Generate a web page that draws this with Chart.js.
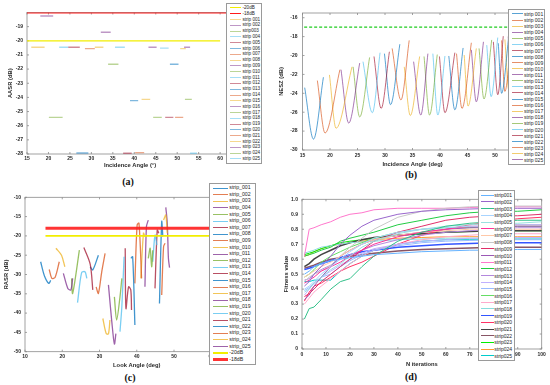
<!DOCTYPE html>
<html>
<head>
<meta charset="UTF-8">
<title>Strip results</title>
<script src="https://cdn.jsdelivr.net/npm/chart.js@4.4.0/dist/chart.umd.min.js"></script>
<style>
  body { margin:0; width:550px; height:385px; background:#fff; position:relative; overflow:hidden; font-family:"Liberation Sans", Arial, sans-serif; }
  canvas { position:absolute; }
  .legend { position:absolute; background:#fff; border:1px solid #9a9a9a; box-sizing:border-box; display:flex; flex-direction:column; padding:1px 0; z-index:2; }
  .legend .row { flex:1; position:relative; }
  .legend .row i { position:absolute; top:50%; height:0; display:block; }
  .legend .row span { position:absolute; top:50%; transform:translateY(-50%); white-space:nowrap; color:#1e1e1e; line-height:1; }
  .cap { position:absolute; font:bold 10px "Liberation Serif", serif; color:#111; transform:translate(-50%,-50%); }
</style>
</head>
<body>
<div class="cap" style="left:128px;top:181px">(a)</div>
<div class="cap" style="left:411px;top:174px">(b)</div>
<div class="cap" style="left:130px;top:377px">(c)</div>
<div class="cap" style="left:411px;top:376px">(d)</div>
<script>
var matlab = ['#0072BD','#D95319','#EDB120','#7E2F8E','#77AC30','#4DBEEE','#A2142F']
var stripNo = ['001','002','003','004','005','006','007','008','009','010','011','012','013',
               '014','015','016','017','018','019','020','021','022','023','024','025']

// (a) AASR, one flat segment per strip
var aasrFrom = [16.0,18.1,20.1,22.5,24.6,26.5,28.5,30.8,32.2,33.9,35.5,37.4,39.0,40.2,41.7,43.3,44.4,46.0,47.2,48.3,49.5,50.7,51.6,51.8,53.0]
var aasrTo   = [19.1,21.1,23.3,24.6,27.3,29.3,30.8,32.8,34.5,36.3,37.8,39.4,40.9,42.3,43.7,45.2,46.4,48.0,49.1,50.3,51.4,52.0,53.0,53.4,54.6]
var aasrDb   = [-20.46,-18.25,-25.41,-20.46,-20.46,-27.93,-20.55,-20.46,-19.4,-21.66,-20.46,-27.95,-24.23,-27.9,-24.14,-20.46,-25.41,-20.52,-25.41,-21.66,-25.41,-20.55,-20.46,-24.14,-27.95]
var aTicksX = [15,20,25,30,35,40,45,50,55,60]
var aTicksY = [-28,-27,-26,-25,-24,-23,-22,-21,-20,-19]

// (b) NESZ: start, minimum, end of each strip
var neszAngle = [
  [15.4,17.0,18.8],[17.7,19.1,21.8],[19.9,21.1,24.0],[22.0,23.4,25.4],[24.2,25.4,27.2],
  [26.0,27.7,29.1],[28.0,29.3,30.8],[29.9,31.0,32.7],[31.3,32.9,34.4],[33.5,34.6,36.3],
  [35.2,36.5,37.8],[37.1,38.1,39.5],[38.7,39.6,40.9],[39.9,40.9,42.7],[41.6,42.7,44.2],
  [43.0,44.0,45.7],[44.4,45.1,46.6],[45.7,46.6,47.9],[47.1,48.0,49.4],[48.5,49.3,50.5],
  [49.7,50.5,51.5],[50.6,51.2,52.5],[51.2,51.8,53.0],[51.8,52.5,53.6],[52.4,53.2,54.2]]
var neszDb = [
  [-23.4,-28.85,-22.3],[-22.65,-28.2,-21.5],[-22.05,-27.7,-21.2],[-21.5,-27.15,-20.8],[-21.2,-26.5,-20.2],
  [-20.65,-26.05,-19.7],[-20.1,-25.6,-19.6],[-19.8,-25.2,-18.8],[-19.25,-24.7,-18.4],[-21.2,-26.35,-20.1],
  [-20.65,-26.3,-19.8],[-20.1,-26.3,-19.9],[-19.8,-26.3,-20.05],[-20.1,-26.05,-19.7],[-20.05,-25.75,-19.2],
  [-19.8,-25.6,-18.65],[-19.95,-25.35,-19.25],[-19.4,-24.9,-18.55],[-19.25,-24.6,-18.35],[-18.9,-24.35,-18.1],
  [-18.55,-24.15,-17.95],[-18.7,-24.0,-18.0],[-18.4,-23.8,-17.9],[-18.3,-23.6,-17.8],[-18.0,-23.4,-17.7]]
var bTicksX = [15,20,25,30,35,40,45,50,55]
var bTicksY = [-30,-28,-26,-24,-22,-20,-18,-16]

// (c) RASR vs look angle
var rasrAngle = [
  [14.2,15.2,16.4,16.9],[16.5,17.2,18.1,19.2],[18.3,19.8,20.7],[20.3,21.5,22.3,22.8],[22.5,22.8,24.6],
  [24.1,25.2,26.1,26.6],[25.8,27.5,28.2],[27.5,28.2,29.7],[29.1,29.7,30.6,31.5],[30.9,31.8,32.4,32.8],
  [32.4,33.3,34.0,34.4],[34.0,34.6,35.5,36.0],[35.5,36.0,36.6],[36.9,37.1,37.8,38.4,38.6],[38.4,38.9,39.5],
  [39.5,40.1,40.6,41.3],[41.1,41.8,42.2],[42.2,42.6,43.1],[43.1,43.6,44.0,44.3],[44.3,44.9,45.4],
  [44.9,45.5,45.9],[46.1,46.7,47.0],[46.7,47.2,47.6],[47.2,47.8,48.2],[47.8,48.2,48.5,48.8]]
var rasrDb = [
  [-26.7,-30.3,-32.3,-31.5],[-28.7,-31,-30.7,-26.7],[-23.2,-25,-28],[-29.7,-33.6,-34,-31],[-31,-34.9,-23.7],
  [-37.3,-29.5,-29.3,-31],[-23,-27.3,-34],[-28,-28.8,-25],[-33.2,-34.9,-29.3,-24.5],[-41.4,-45.3,-45.4,-41.8],
  [-32.7,-42.2,-48.0,-45.3],[-35.8,-41.8,-35.8,-31],[-44.8,-38.3,-25.4],[-23.2,-38.8,-33.2,-34.0,-39.2],[-25.8,-25.4,-43.1],
  [-32.3,-17.2,-16.7,-31.0],[-31,-19.3,-20.2],[-33.2,-17.6,-15.9],[-25.8,-23.2,-28.0,-23.7],[-26.7,-19.8,-22.4],
  [-33.6,-18.5,-19.3],[-37.5,-16.3,-20.2],[-35.3,-22.8,-21.9],[-15.9,-14.6,-19.3],[-12.6,-16.7,-25.8,-28.2]]
var cTicksX = [10,20,30,40,50,60,70]
var cTicksY = [-50,-45,-40,-35,-30,-25,-20,-15,-10]

// (d) fitness convergence
var iterN = [1,3,5,8,12,16,20,25,30,40,50,60,70,80,90,100]
var fitness = [
  [0.50,0.52,0.55,0.57,0.59,0.60,0.61,0.62,0.63,0.64,0.65,0.655,0.66,0.66,0.665,0.665],
  [0.42,0.45,0.50,0.55,0.62,0.70,0.76,0.82,0.86,0.90,0.92,0.93,0.935,0.94,0.94,0.94],
  [0.20,0.27,0.28,0.33,0.40,0.45,0.47,0.55,0.62,0.72,0.78,0.82,0.84,0.85,0.86,0.86],
  [0.40,0.42,0.45,0.50,0.55,0.60,0.65,0.70,0.74,0.78,0.80,0.81,0.82,0.82,0.83,0.83],
  [0.38,0.40,0.44,0.48,0.53,0.57,0.62,0.68,0.72,0.77,0.80,0.82,0.83,0.84,0.84,0.85],
  [0.44,0.46,0.48,0.52,0.55,0.58,0.62,0.66,0.70,0.75,0.78,0.80,0.82,0.82,0.83,0.83],
  [0.48,0.50,0.52,0.55,0.58,0.62,0.66,0.70,0.73,0.76,0.78,0.79,0.80,0.80,0.80,0.80],
  [0.45,0.48,0.50,0.52,0.56,0.62,0.68,0.74,0.80,0.88,0.92,0.94,0.95,0.955,0.955,0.955],
  [0.35,0.37,0.40,0.45,0.50,0.55,0.60,0.66,0.72,0.78,0.82,0.86,0.88,0.89,0.89,0.90],
  [0.33,0.36,0.42,0.48,0.55,0.62,0.66,0.70,0.73,0.76,0.78,0.80,0.81,0.81,0.82,0.82],
  [0.62,0.80,0.81,0.83,0.85,0.88,0.90,0.91,0.93,0.94,0.94,0.94,0.945,0.95,0.95,0.95],
  [0.62,0.63,0.64,0.66,0.68,0.72,0.74,0.76,0.78,0.83,0.86,0.89,0.91,0.92,0.92,0.93],
  [0.46,0.47,0.50,0.53,0.56,0.60,0.63,0.66,0.69,0.73,0.76,0.78,0.79,0.80,0.81,0.81],
  [0.36,0.40,0.44,0.48,0.52,0.56,0.60,0.64,0.67,0.70,0.72,0.73,0.74,0.74,0.745,0.745],
  [0.39,0.41,0.44,0.48,0.50,0.55,0.59,0.63,0.66,0.69,0.71,0.72,0.725,0.73,0.73,0.73],
  [0.48,0.50,0.53,0.58,0.62,0.65,0.68,0.71,0.74,0.78,0.80,0.81,0.81,0.82,0.82,0.82],
  [0.30,0.34,0.38,0.42,0.47,0.52,0.57,0.62,0.66,0.70,0.73,0.75,0.76,0.77,0.77,0.77],
  [0.64,0.65,0.66,0.68,0.69,0.70,0.71,0.715,0.72,0.73,0.735,0.74,0.74,0.74,0.74,0.74],
  [0.53,0.54,0.55,0.57,0.59,0.61,0.63,0.65,0.66,0.68,0.69,0.70,0.705,0.71,0.71,0.71],
  [0.32,0.38,0.42,0.44,0.48,0.52,0.55,0.58,0.62,0.70,0.76,0.80,0.83,0.85,0.87,0.88],
  [0.55,0.57,0.60,0.63,0.66,0.69,0.71,0.73,0.745,0.76,0.77,0.78,0.785,0.79,0.79,0.79],
  [0.54,0.55,0.56,0.58,0.60,0.61,0.62,0.63,0.64,0.655,0.665,0.67,0.675,0.68,0.68,0.68],
  [0.63,0.64,0.65,0.67,0.69,0.71,0.72,0.73,0.74,0.76,0.77,0.78,0.785,0.79,0.79,0.79],
  [0.62,0.63,0.65,0.67,0.69,0.70,0.71,0.72,0.73,0.74,0.745,0.75,0.75,0.75,0.75,0.75],
  [0.45,0.45,0.46,0.46,0.46,0.52,0.57,0.62,0.66,0.70,0.72,0.73,0.73,0.73,0.735,0.735]]
var dColors = ['#66b3ff','#9966cc','#33c08a','#a8d4ff','#99e0e0','#ff3399','#ffc8a8','#c8c8c8','#e0306a','#9b59b6',
               '#ff77cc','#22cc44','#b388dd','#c0b0ff','#99bbff','#66dd66','#ffaacc','#88dddd','#3355ff','#ff3366',
               '#444444','#885566','#00ee00','#ff9933','#00cccc']
var dTicksX = [0,10,20,30,40,50,60,70,80,90,100]
var dTicksY = [0,0.1,0.2,0.3,0.4,0.5,0.6,0.7,0.8,0.9,1]

function fade(hex, a) {
  var n = parseInt(hex.slice(1), 16)
  return 'rgba(' + (n >> 16) + ',' + ((n >> 8) & 255) + ',' + (n & 255) + ',' + a + ')'
}
function pts(xs, ys) {
  return xs.map(function(x, i) { return {x: x, y: ys[i]} })
}

var framePlugin = {
  id: 'frame',
  beforeDatasetsDraw: function(chart) {
    var ctx = chart.ctx, a = chart.chartArea, sx = chart.scales.x, sy = chart.scales.y
    ctx.save()
    ctx.strokeStyle = '#8a8a8a'
    ctx.lineWidth = 0.8
    ctx.strokeRect(a.left, a.top, a.right - a.left, a.bottom - a.top)
    ctx.beginPath()
    sx.ticks.forEach(function(t) {
      var p = sx.getPixelForValue(t.value)
      ctx.moveTo(p, a.bottom); ctx.lineTo(p, a.bottom - 2)
      ctx.moveTo(p, a.top); ctx.lineTo(p, a.top + 2)
    })
    sy.ticks.forEach(function(t) {
      var p = sy.getPixelForValue(t.value)
      ctx.moveTo(a.left, p); ctx.lineTo(a.left + 2, p)
      ctx.moveTo(a.right, p); ctx.lineTo(a.right - 2, p)
    })
    ctx.stroke()
    ctx.restore()
  }
}

var tickFont = {family: '"Liberation Sans", Arial, sans-serif', size: 5, weight: 'bold'}
var titleFont = {family: '"Liberation Sans", Arial, sans-serif', size: 5.8, weight: 'bold'}

function panel(p) {
  var c = document.createElement('canvas')
  c.width = p.box[2]; c.height = p.box[3]
  c.style.left = p.box[0] + 'px'; c.style.top = p.box[1] + 'px'
  document.body.appendChild(c)
  var L = p.box[0], T = p.box[1]
  var yW = p.plot[0] - L, xH = T + p.box[3] - p.plot[3]
  return new Chart(c, {
    type: 'line',
    data: {datasets: p.datasets},
    options: {
      responsive: false, animation: false, devicePixelRatio: 1,
      layout: {padding: {left: 0, bottom: 0, top: p.plot[1] - T, right: L + p.box[2] - p.plot[2]}},
      plugins: {legend: {display: false}, tooltip: {enabled: false}},
      elements: {point: {radius: 0}},
      scales: {
        x: {
          type: 'linear', min: p.xr[0], max: p.xr[1],
          afterFit: function(s) { s.height = xH },
          afterBuildTicks: function(s) { s.ticks = p.xt.map(function(v) { return {value: v} }) },
          grid: {display: false, drawTicks: false}, border: {display: false},
          ticks: {font: tickFont, color: '#2a2a2a', padding: p.xPad, maxRotation: 0, autoSkip: false},
          title: {display: true, text: p.xTitle, font: titleFont, color: '#2a2a2a', padding: {top: 0, bottom: p.xTitlePad}}
        },
        y: {
          type: 'linear', min: p.yr[0], max: p.yr[1],
          afterFit: function(s) { s.width = yW },
          afterBuildTicks: function(s) { s.ticks = p.yt.map(function(v) { return {value: v} }) },
          grid: {display: false, drawTicks: false}, border: {display: false},
          ticks: {font: tickFont, color: '#2a2a2a', padding: p.yPad, autoSkip: false},
          title: {display: true, text: p.yTitle, font: titleFont, color: '#2a2a2a', padding: {top: p.yTitlePad, bottom: 0}}
        }
      }
    },
    plugins: [framePlugin]
  })
}

function addLegend(box, names, colors, widths, g) {
  var el = document.createElement('div')
  el.className = 'legend'
  el.style.cssText = 'left:' + box[0] + 'px;top:' + box[1] + 'px;width:' + box[2] + 'px;height:' + box[3] + 'px'
  names.forEach(function(n, i) {
    var row = document.createElement('div')
    row.className = 'row'
    var ln = document.createElement('i')
    ln.style.cssText = 'left:' + g[0] + 'px;width:' + g[1] + 'px;border-top:' + widths[i] + 'px solid ' + colors[i] + ';margin-top:' + (-widths[i] / 2) + 'px'
    var tx = document.createElement('span')
    tx.textContent = n
    tx.style.cssText = 'left:' + g[2] + 'px;font-size:' + g[3] + 'px'
    row.appendChild(ln); row.appendChild(tx); el.appendChild(row)
  })
  document.body.appendChild(el)
}

// ---------- (a)
var aCol = stripNo.map(function(s, i) { return fade(matlab[(i + 2) % 7], 0.5) })
var aSets = [
  {data: pts([15, 60], [-20, -20]), borderColor: '#f2ee00', borderWidth: 1.3},
  {data: pts([15, 65], [-18, -18]), borderColor: '#ff1a1a', borderWidth: 1.8}
]
stripNo.forEach(function(s, i) {
  aSets.push({data: pts([aasrFrom[i], aasrTo[i]], [aasrDb[i], aasrDb[i]]), borderColor: aCol[i], borderWidth: 1.4})
})
panel({box: [0, 0, 275, 175], plot: [27, 12.5, 233, 154], xr: [15, 63], yr: [-28, -18], xt: aTicksX, yt: aTicksY,
  xPad: 2, yPad: 4, xTitle: 'Incidence Angle (°)', yTitle: 'AASR (dB)', xTitlePad: 5.8, yTitlePad: 6.5, datasets: aSets})
addLegend([226, 3, 36, 161],
  ['-20dB', '-18dB'].concat(stripNo.map(function(s) { return s === '003' ? 'strip003' : 'strip ' + s })),
  ['#f2ee00', '#ff1a1a'].concat(aCol), [1.5, 1.5].concat(stripNo.map(function() { return 1.2 })),
  [3, 11, 15.5, 4.6])

// ---------- (b)
var bCol = stripNo.map(function(s, i) { return fade(matlab[i % 7], 0.65) })
var bSets = [{data: pts([15.3, 55], [-17, -17]), borderColor: '#1fcc1f', borderWidth: 1.4, borderDash: [3, 2]}]
stripNo.forEach(function(s, i) {
  bSets.push({data: pts(neszAngle[i], neszDb[i]), borderColor: bCol[i], borderWidth: 1, cubicInterpolationMode: 'monotone'})
})
panel({box: [275, 0, 275, 175], plot: [302.5, 13, 522.5, 150], xr: [15, 55], yr: [-30, -15.5], xt: bTicksX, yt: bTicksY,
  xPad: 2.5, yPad: 5, xTitle: 'Incidence Angle (deg)', yTitle: 'NESZ (dB)', xTitlePad: 7.5, yTitlePad: 3.2, datasets: bSets})
addLegend([508, 9, 37, 156], stripNo.map(function(s) { return 'strip ' + s }), bCol,
  stripNo.map(function() { return 1.2 }), [2.7, 11, 15, 5])

// ---------- (c)
var cCol = stripNo.map(function(s, i) { return fade(matlab[i % 7], 0.75) })
var cSets = [
  {data: pts([15.5, 70], [-20, -20]), borderColor: '#f2ee00', borderWidth: 1.7},
  {data: pts([15.5, 70], [-18, -18]), borderColor: 'rgba(255,30,30,0.9)', borderWidth: 3}
]
stripNo.forEach(function(s, i) {
  cSets.push({data: pts(rasrAngle[i], rasrDb[i]), borderColor: cCol[i], borderWidth: 1.3, tension: 0.3})
})
panel({box: [0, 185, 275, 190], plot: [25, 197.3, 248.5, 351.7], xr: [10, 70], yr: [-50, -10], xt: cTicksX, yt: cTicksY,
  xPad: 2, yPad: 4, xTitle: 'Look Angle (deg)', yTitle: 'RASR (dB)', xTitlePad: 6.5, yTitlePad: 2.5, datasets: cSets})
addLegend([209, 183, 47, 182],
  stripNo.map(function(s) { return 'strip_' + s }).concat(['-20dB', '-18dB']),
  cCol.concat(['#f2ee00', 'rgba(255,30,30,0.9)']),
  stripNo.map(function() { return 1.2 }).concat([2, 3]), [2.7, 15, 19.3, 5.2])

// ---------- (d)
var dSets = []
stripNo.forEach(function(s, i) {
  var thick = (s === '019' || s === '021' || s === '022')
  dSets.push({data: pts(iterN, fitness[i]), borderColor: dColors[i], borderWidth: thick ? 1.5 : 1})
})
panel({box: [275, 185, 275, 190], plot: [302, 199.3, 541.7, 349], xr: [0, 100], yr: [0, 1], xt: dTicksX, yt: dTicksY,
  xPad: 2.5, yPad: 4, xTitle: 'N iterations', yTitle: 'Fitness value', xTitlePad: 7.5, yTitlePad: 8.2, datasets: dSets})
addLegend([478, 190, 37, 171], stripNo.map(function(s) { return 'strip' + s }), dColors,
  stripNo.map(function() { return 1.2 }), [2, 12.7, 15.3, 5])
</script>
</body>
</html>
